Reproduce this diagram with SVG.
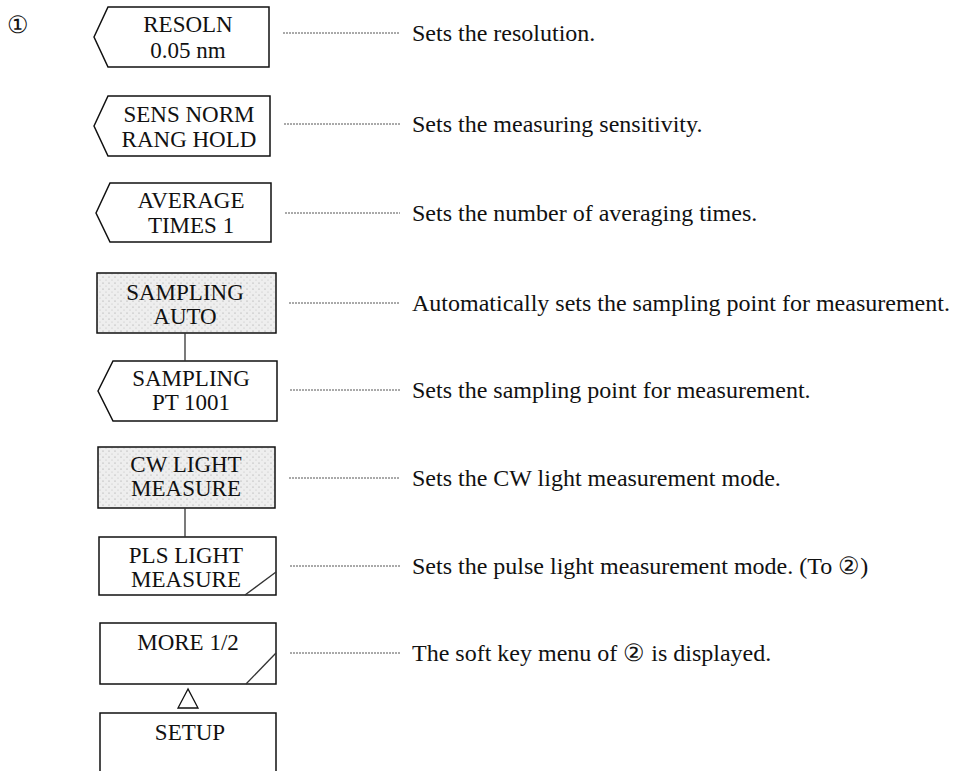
<svg xmlns="http://www.w3.org/2000/svg" width="967" height="771" viewBox="0 0 967 771">
<defs>
<pattern id="stip" width="6" height="6" patternUnits="userSpaceOnUse">
<rect width="6" height="6" fill="#eeeeee"/>
<circle cx="1" cy="1" r="0.6" fill="#9a9a9a"/>
<circle cx="4" cy="4" r="0.5" fill="#b4b4b4"/>
</pattern>
</defs>
<style>
.box{fill:#fff;stroke:#111;stroke-width:1.5}
.shade{fill:url(#stip);stroke:#111;stroke-width:1.5}
.lbl{font-family:"Liberation Serif","Times New Roman",serif;font-size:23px;fill:#111;text-anchor:middle}
.desc{font-family:"Liberation Serif","Times New Roman",serif;font-size:24px;fill:#111}
.lead{stroke:#555;stroke-width:1;stroke-dasharray:2 1}
.link{stroke:#333;stroke-width:1.3;fill:none}
</style>
<text x="18" y="33" class="desc" text-anchor="middle" font-size="24">①</text>

<g id="resoln">
<polygon class="box" points="94,37 108,7 269,7 269,67 108,67"/>
<text class="lbl" x="188" y="32">RESOLN</text>
<text class="lbl" x="188" y="58">0.05 nm</text>
</g>
<g id="sens">
<polygon class="box" points="94,126 108,96 270,96 270,156 108,156"/>
<text class="lbl" x="189" y="122">SENS NORM</text>
<text class="lbl" x="189" y="147">RANG HOLD</text>
</g>
<g id="average">
<polygon class="box" points="96,213 110,183 271,183 271,242 110,242"/>
<text class="lbl" x="191" y="208">AVERAGE</text>
<text class="lbl" x="191" y="233">TIMES 1</text>
</g>
<g id="sampling-auto">
<rect class="shade" x="97" y="273" width="179" height="60"/>
<text class="lbl" x="185" y="300">SAMPLING</text>
<text class="lbl" x="185" y="324">AUTO</text>
</g>
<g id="sampling-pt">
<polygon class="box" points="98,391 113,361 277,361 277,421 113,421"/>
<text class="lbl" x="191" y="386">SAMPLING</text>
<text class="lbl" x="191" y="410">PT 1001</text>
</g>
<g id="cw">
<rect class="shade" x="98" y="447" width="177" height="61"/>
<text class="lbl" x="186" y="472">CW LIGHT</text>
<text class="lbl" x="186" y="496">MEASURE</text>
</g>
<g id="pls">
<rect class="box" x="99" y="537" width="177" height="58"/>
<line class="link" x1="245" y1="595" x2="276" y2="572"/>
<text class="lbl" x="186" y="563">PLS LIGHT</text>
<text class="lbl" x="186" y="587">MEASURE</text>
</g>
<g id="more">
<rect class="box" x="100" y="623" width="176" height="61"/>
<line class="link" x1="246" y1="684" x2="276" y2="653"/>
<text class="lbl" x="188" y="650">MORE 1/2</text>
</g>
<g id="setup">
<path class="box" d="M100,775 V713 H276 V775"/>
<text class="lbl" x="190" y="740">SETUP</text>
</g>

<g id="connectors">
<line class="link" x1="185" y1="333" x2="185" y2="361"/>
<line class="link" x1="185" y1="508" x2="185" y2="537"/>
<polygon points="188,689 178,708 198,708" fill="#fff" stroke="#111" stroke-width="1.3"/>
<line class="lead" x1="283" y1="33" x2="400" y2="33"/>
<line class="lead" x1="284" y1="124" x2="400" y2="124"/>
<line class="lead" x1="285" y1="213" x2="400" y2="213"/>
<line class="lead" x1="289" y1="303" x2="400" y2="303"/>
<line class="lead" x1="290" y1="390" x2="400" y2="390"/>
<line class="lead" x1="289" y1="478" x2="400" y2="478"/>
<line class="lead" x1="290" y1="566" x2="400" y2="566"/>
<line class="lead" x1="290" y1="653" x2="400" y2="653"/>
</g>

<text class="desc" x="412" y="41">Sets the resolution.</text>
<text class="desc" x="412" y="132">Sets the measuring sensitivity.</text>
<text class="desc" x="412" y="221">Sets the number of averaging times.</text>
<text class="desc" x="412" y="311">Automatically sets the sampling point for measurement.</text>
<text class="desc" x="412" y="398">Sets the sampling point for measurement.</text>
<text class="desc" x="412" y="486">Sets the CW light measurement mode.</text>
<text class="desc" x="412" y="574">Sets the pulse light measurement mode. (To ②)</text>
<text class="desc" x="412" y="661">The soft key menu of ② is displayed.</text>
</svg>
